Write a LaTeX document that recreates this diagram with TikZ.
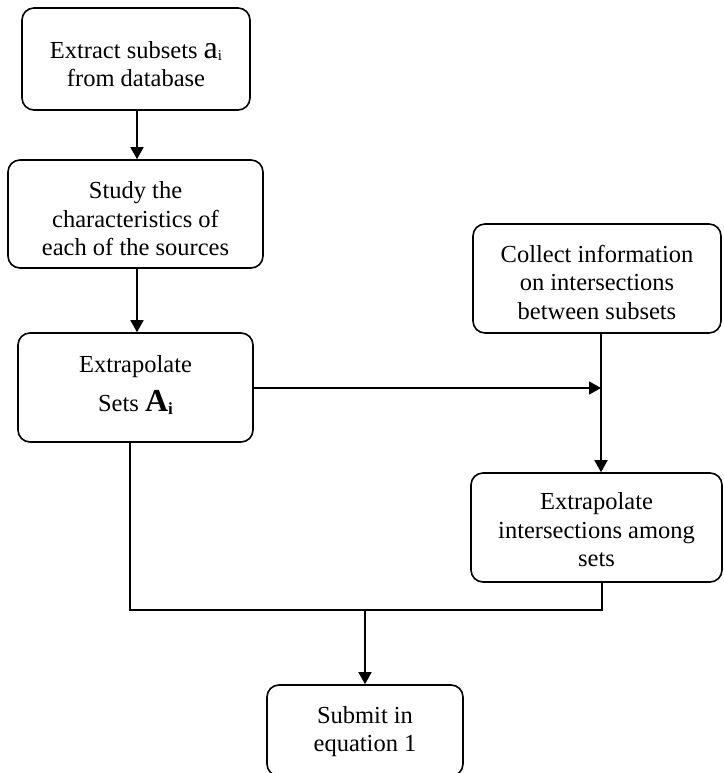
\documentclass[tikz,border=0pt]{standalone}
\usepackage{fontspec}
\setmainfont{Liberation Serif}
\usetikzlibrary{arrows.meta}
\begin{document}
\begin{tikzpicture}[x=1pt,y=-1pt,
  box/.style={draw, line width=1.6pt, rounded corners=12pt, inner sep=0pt},
  txt/.style={align=center, font=\fontsize{24.5}{28.5}\selectfont, inner sep=0pt},
  conn/.style={line width=1.6pt},
  arr/.style={conn, -{Triangle[length=12pt,width=13pt]}}]
\useasboundingbox (0,0) rectangle (723,773);
% boxes
\node[box, minimum width=228pt, minimum height=102pt] (b1) at (136,59) {};
\node[box, minimum width=255pt, minimum height=108pt] (b2) at (135.5,214) {};
\node[box, minimum width=235pt, minimum height=109pt] (b3) at (135.5,387.5) {};
\node[box, minimum width=248pt, minimum height=109pt] (b4) at (597,278.5) {};
\node[box, minimum width=251pt, minimum height=109pt] (b5) at (596.5,527.5) {};
\node[box, minimum width=196pt, minimum height=91pt] (b6) at (365,730.5) {};
% texts
\node[txt] (t1) at (136,64)
  {Extract subsets {\fontsize{32}{32}\selectfont a}{\fontsize{15}{15}\selectfont\raisebox{-2pt}{i}}\\from database};
\node[txt] (t2) at (135.5,219) {Study the\\characteristics of\\each of the sources};
\node[txt] (t3) at (135.5,385)
  {Extrapolate\\[11pt]Sets {\fontsize{32}{32}\selectfont\bfseries A}{\fontsize{17}{17}\selectfont\bfseries\raisebox{-3pt}{i}}};
\node[txt] (t4) at (597,282) {Collect information\\on intersections\\between subsets};
\node[txt] (t5) at (596.5,530) {Extrapolate\\intersections among\\sets};
\node[txt] (t6) at (365,731.5) {Submit in\\equation 1};
% connectors
\coordinate (j) at (601,388);
\coordinate (bl) at (130,610);
\coordinate (br) at (602,610);
\coordinate (bm) at (365,610);
\draw[arr] (b1.south -| 137,0) -- (b2.north -| 137,0);
\draw[arr] (b2.south -| 137,0) -- (b3.north -| 137,0);
\draw[arr] (b3.east |- j) -- (j);
\draw[arr] (b4.south -| j) -- (b5.north -| j);
\draw[conn] (b3.south -| bl) -- (bl) -- (br) -- (b5.south -| br);
\draw[arr] (bm) -- (b6.north);
\end{tikzpicture}
\end{document}
